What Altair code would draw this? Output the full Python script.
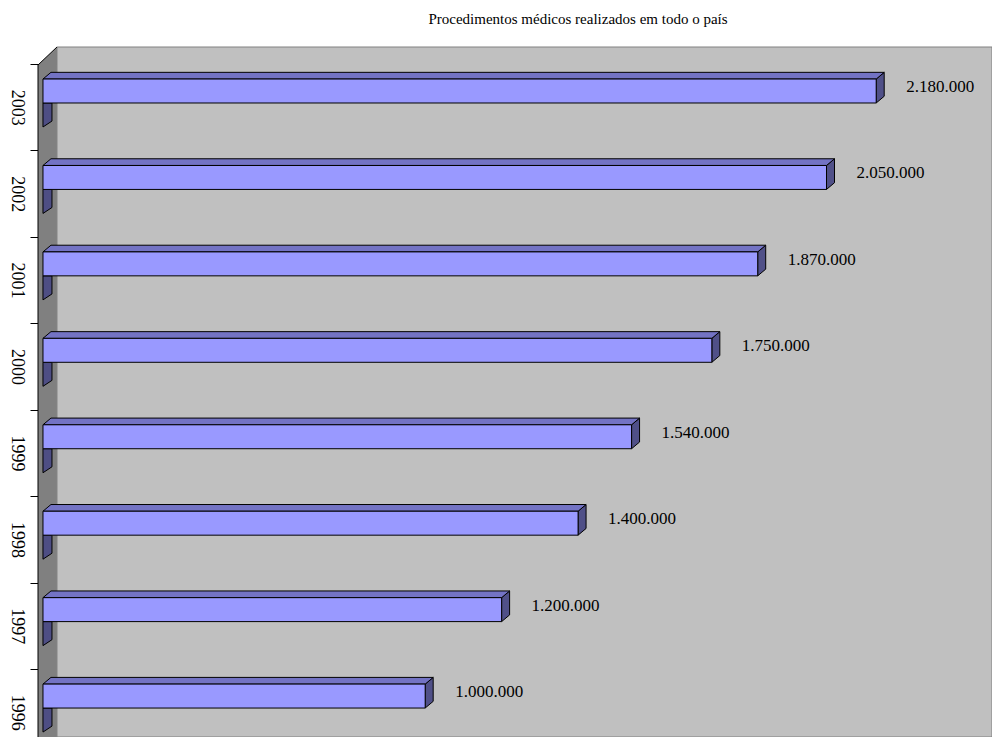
import altair as alt
import pandas as pd

# ---- data ----
years = ["2003", "2002", "2001", "2000", "1999", "1998", "1997", "1996"]
values = [2180000, 2050000, 1870000, 1750000, 1540000, 1400000, 1200000, 1000000]
value_labels = ["2.180.000", "2.050.000", "1.870.000", "1.750.000",
                "1.540.000", "1.400.000", "1.200.000", "1.000.000"]
title_text = "Procedimentos médicos realizados em todo o país"

# ---- style / geometry constants (in scale units) ----
X_MIN, X_MAX = -13000, 2483000        # value axis domain
Y_MIN, Y_MAX = -0.1967, 7.786          # category-slot domain (0 = top slot)
FRONT_TOP, FRONT_BOT = 0.174, 0.451    # bar front face inside a slot
DX, DY = 20930, -0.0775                # 3-D depth offset of the bars
WALL_X = 36630                         # back wall starts here
SIDE_TOP_LEFT = 0.0116
SH_DX, SH_BL, SH_BR = 23550, 0.729, 0.66
LABEL_Y = 0.266

FRONT = "#9999FF"
TOP = "#7373C4"
END = "#505088"
SHADOW = "#4E4E84"
BACKWALL = "#C0C0C0"
SIDEWALL = "#808080"

xs = alt.Scale(domain=[X_MIN, X_MAX], nice=False, zero=False)
ys = alt.Scale(domain=[Y_MIN, Y_MAX], nice=False, zero=False, reverse=True)

n = len(years)
bars = pd.DataFrame({
    "year": years,
    "value": values,
    "label": value_labels,
    "y0": [k + FRONT_TOP for k in range(n)],
    "y1": [k + FRONT_BOT for k in range(n)],
    "ylab": [k + LABEL_Y for k in range(n)],
    "x0": [0] * n,
})

top_rows, end_rows, sh_rows = [], [], []
for k, (yr, v) in enumerate(zip(years, values)):
    top_rows.append({"year": yr, "y": k + FRONT_TOP, "x": 0, "x2": v})
    top_rows.append({"year": yr, "y": k + FRONT_TOP + DY, "x": DX, "x2": v + DX})
    end_rows.append({"year": yr, "x": v, "y": k + FRONT_TOP, "y2": k + FRONT_BOT})
    end_rows.append({"year": yr, "x": v + DX, "y": k + FRONT_TOP + DY, "y2": k + FRONT_BOT + DY})
    sh_rows.append({"year": yr, "x": 0, "y": k + FRONT_BOT, "y2": k + SH_BL})
    sh_rows.append({"year": yr, "x": SH_DX, "y": k + FRONT_BOT, "y2": k + SH_BR})
top_df = pd.DataFrame(top_rows)
end_df = pd.DataFrame(end_rows)
sh_df = pd.DataFrame(sh_rows)

back_df = pd.DataFrame({"x": [WALL_X], "x2": [X_MAX], "y": [Y_MIN], "y2": [Y_MAX]})
side_df = pd.DataFrame({"x": [X_MIN, WALL_X], "y": [SIDE_TOP_LEFT, Y_MIN], "y2": [Y_MAX, Y_MAX]})
edge_df = pd.DataFrame({"x": [X_MIN, X_MIN, WALL_X], "y": [Y_MAX, SIDE_TOP_LEFT, Y_MIN], "o": [0, 1, 2]})

years_js = "[" + ",".join("'%s'" % y for y in years) + "]"

back = alt.Chart(back_df).mark_rect(fill=BACKWALL, stroke=SIDEWALL, strokeWidth=1).encode(
    x=alt.X("x:Q", scale=xs, axis=None), x2="x2",
    y=alt.Y("y:Q", scale=ys,
            axis=alt.Axis(
                values=[i * 0.5 for i in range(2 * n)],
                labelExpr="datum.value % 1 == 0 ? '' : " + years_js + "[floor(datum.value)]",
                labelAngle=90, labelAlign="center", labelBaseline="top",
                labelFont="Liberation Serif", labelFontSize=18, labelColor="black",
                labelPadding=5, labelOverlap=False, labelFlush=False,
                tickSize=8, tickColor="black", tickWidth=1,
                tickOpacity={"condition": {"test": "datum.value % 1 != 0", "value": 0}, "value": 1},
                domain=False, grid=False, title=None)),
    y2="y2",
)

side = alt.Chart(side_df).mark_area(fill=SIDEWALL, orient="vertical").encode(
    x=alt.X("x:Q", scale=xs), y=alt.Y("y:Q", scale=ys), y2="y2")

edge = alt.Chart(edge_df).mark_line(color="black", strokeWidth=1).encode(
    x=alt.X("x:Q", scale=xs), y=alt.Y("y:Q", scale=ys), order="o:Q")

shadow = alt.Chart(sh_df).mark_area(fill=SHADOW, stroke="black", strokeWidth=1, orient="vertical").encode(
    x=alt.X("x:Q", scale=xs), y=alt.Y("y:Q", scale=ys), y2="y2", detail="year:N")

end = alt.Chart(end_df).mark_area(fill=END, stroke="black", strokeWidth=1, orient="vertical").encode(
    x=alt.X("x:Q", scale=xs), y=alt.Y("y:Q", scale=ys), y2="y2", detail="year:N")

top = alt.Chart(top_df).mark_area(fill=TOP, stroke="black", strokeWidth=1, orient="horizontal").encode(
    y=alt.Y("y:Q", scale=ys), x=alt.X("x:Q", scale=xs), x2="x2", detail="year:N")

front = alt.Chart(bars).mark_rect(fill=FRONT, stroke="black", strokeWidth=1).encode(
    x=alt.X("x0:Q", scale=xs), x2="value",
    y=alt.Y("y0:Q", scale=ys), y2="y1")

labels = alt.Chart(bars).mark_text(
    align="left", baseline="middle", dx=30,
    font="Liberation Serif", fontSize=17, color="black").encode(
    x=alt.X("value:Q", scale=xs), y=alt.Y("ylab:Q", scale=ys), text="label:N")

chart = alt.layer(back, side, edge, shadow, end, top, front, labels).properties(
    width=954, height=690,
    padding={"left": 30, "top": 39, "right": 0, "bottom": 0},
    autosize=alt.AutoSizeParams(type="none"),
    background="white",
    title=alt.TitleParams(title_text, font="Liberation Serif", fontSize=15,
                          fontWeight="normal", color="black", anchor="middle",
                          frame="group", dx=63, offset=6, baseline="alphabetic"),
).configure_view(stroke=None)

chart.save("out.html", embed_options={"renderer": "svg", "actions": False})
